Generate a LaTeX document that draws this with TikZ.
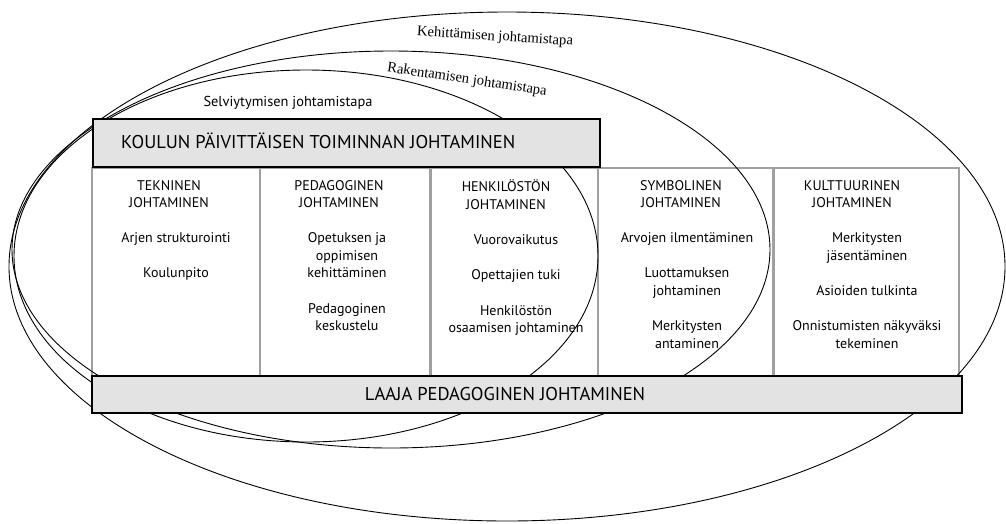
\documentclass[tikz,border=0pt]{standalone}
\usepackage{fontspec}
\setmainfont{Liberation Serif}
\setsansfont{PT Sans}
\usetikzlibrary{positioning,calc}
\definecolor{boxgray}{HTML}{E3E3E3}
\definecolor{colgray}{HTML}{A0A0A0}
\tikzset{
    bar/.style = {
        draw,
        shape=rectangle,
        line width=1.5pt,
        fill=boxgray,
        inner sep=0pt
    },
    bartext/.style = {
        font=\sffamily\fontsize{18.5}{22}\selectfont,
        inner sep=0pt
    },
    column/.style = {
        draw=colgray,
        shape=rectangle,
        line width=1.5pt,
        minimum height=208pt,
        inner sep=0pt
    },
    colhead/.style = {
        font=\sffamily\fontsize{14}{17.6}\selectfont,
        align=center,
        anchor=north,
        inner sep=0pt
    },
    colitems/.style = {
        colhead
    },
    way/.style = {
        line width=0.9pt
    },
    waylabel/.style = {
        font=\fontsize{14.6}{18}\selectfont,
        inner sep=0pt
    },
}

\begin{document}
\begin{tikzpicture}[x=1pt,y=-1pt]
    \useasboundingbox (0,0) rectangle (1006,523);

    % columns
    \node[column, minimum width=168pt] (tekninen) at (176,272) {};
    \node[column, minimum width=170pt] (pedagoginen) at (345,272) {};
    \node[column, minimum width=167pt] (henkilosto) at (514.5,272) {};
    \node[column, minimum width=175pt] (symbolinen) at (685.5,272) {};
    \node[column, minimum width=185pt] (kulttuurinen) at (866.5,272) {};

    \node[colhead] (tekninen head) at (169,180) {TEKNINEN\\JOHTAMINEN};
    \node[colitems] (tekninen items) at (176,232.5) {Arjen strukturointi\\[17.6pt]Koulunpito};

    \node[colhead] (pedagoginen head) at (339,180) {PEDAGOGINEN\\JOHTAMINEN};
    \node[colitems] (pedagoginen items) at (347,232.5) {Opetuksen ja\\oppimisen\\kehittäminen\\[17.6pt]Pedagoginen\\keskustelu};

    \node[colhead] (henkilosto head) at (506,180) {HENKILÖSTÖN\\JOHTAMINEN};
    \node[colitems] (henkilosto items) at (516,234.5) {Vuorovaikutus\\[17.6pt]Opettajien tuki\\[17.6pt]Henkilöstön\\osaamisen johtaminen};

    \node[colhead] (symbolinen head) at (681,180) {SYMBOLINEN\\JOHTAMINEN};
    \node[colitems] (symbolinen items) at (687,232.5) {Arvojen ilmentäminen\\[17.6pt]Luottamuksen\\johtaminen\\[17.6pt]Merkitysten\\antaminen};

    \node[colhead] (kulttuurinen head) at (852,180) {KULTTUURINEN\\JOHTAMINEN};
    \node[colitems] (kulttuurinen items) at (867,232.5) {Merkitysten\\jäsentäminen\\[17.6pt]Asioiden tulkinta\\[17.6pt]Onnistumisten näkyväksi\\tekeminen};

    % ways of leading
    \draw[way] (507,266.5) ellipse [x radius=498pt, y radius=254.5pt];
    \draw[way] (391,249.5) ellipse [x radius=379pt, y radius=198.5pt];
    \draw[way] (306,256) ellipse [x radius=292pt, y radius=186pt];

    \node[waylabel, rotate=-3.5] (kehittaminen) at (495,37) {Kehittämisen johtamistapa};
    \node[waylabel, rotate=-8.5] (rakentaminen) at (467,80) {Rakentamisen johtamistapa};
    \node[font=\sffamily\fontsize{14.4}{17}\selectfont, inner sep=0pt] (selviytyminen) at (288,103) {Selviytymisen johtamistapa};

    % bars
    \node[bar, minimum width=507pt, minimum height=48pt] (koulun) at (346.5,143) {};
    \node[bartext, anchor=west] (koulun text) at (121,141) {KOULUN PÄIVITTÄISEN TOIMINNAN JOHTAMINEN};
    \node[bar, minimum width=870pt, minimum height=37pt] (laaja) at (527,394.5) {};
    \node[bartext] (laaja text) at (505,394.5) {LAAJA PEDAGOGINEN JOHTAMINEN};
\end{tikzpicture}
\end{document}
